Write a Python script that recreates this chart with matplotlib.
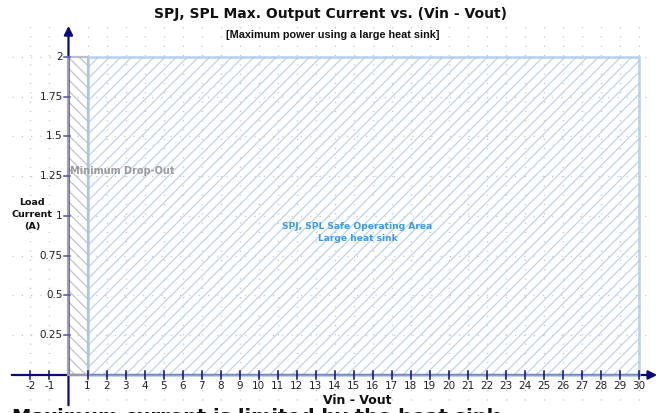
import matplotlib.pyplot as plt
import matplotlib.patches as mpatches

# chart data
x_ticks = [-2, -1] + list(range(1, 31))
y_ticks = [0.25, 0.5, 0.75, 1, 1.25, 1.5, 1.75, 2]
y_tick_labels = ['0.25', '0.5', '0.75', '1', '1.25', '1.5', '1.75', '2']
dropout_range = (0, 1)
soa_range = (1, 30)
max_current = 2.0

title = 'SPJ, SPL Max. Output Current vs. (Vin - Vout)'
subtitle = '[Maximum power using a large heat sink]'
soa_label = 'SPJ, SPL Safe Operating Area\nLarge heat sink'
dropout_label = 'Minimum Drop-Out'

navy = '#0a0a80'
grid_col = '#c4c4c4'

fig = plt.figure(figsize=(6.69, 4.13), dpi=100)
ax = fig.add_axes([0, 0, 1, 1])
ax.set_xlim(-3.60, 31.57)
ax.set_ylim(-0.239, 2.358)
ax.axis('off')

# dotted grid
dots = (0, (0.8, 5.9))
ax.vlines(x_ticks, -0.16, 2.22, colors=grid_col, linestyles=dots, lw=1, zorder=0)
ax.hlines(y_ticks, -2.98, 30.5, colors=grid_col, linestyles=dots, lw=1, zorder=0)

# minimum drop-out region
plt.rcParams['hatch.linewidth'] = 0.9
dx0, dx1 = dropout_range
ax.add_patch(mpatches.Rectangle((dx0, 0), dx1 - dx0, max_current, facecolor='none',
                                edgecolor='#c4c4c4', hatch='\\\\\\', lw=0, zorder=1))

# safe operating area
sx0, sx1 = soa_range
ax.add_patch(mpatches.Rectangle((sx0, 0), sx1 - sx0, max_current, facecolor='none',
                                edgecolor='#bcd5f1', hatch='///', lw=0, zorder=1))

# axes with arrows
ax.annotate('', xy=(30.95, 0), xytext=(-2.98, 0),
            arrowprops=dict(arrowstyle='-|>', color=navy, lw=1.6, mutation_scale=13,
                            shrinkA=0, shrinkB=0), zorder=3)
ax.annotate('', xy=(0, 2.195), xytext=(0, -0.19),
            arrowprops=dict(arrowstyle='-|>', color=navy, lw=1.6, mutation_scale=13,
                            shrinkA=0, shrinkB=0), zorder=3)

# region borders drawn over the axes
ax.add_patch(mpatches.Rectangle((dx0, 0), dx1 - dx0, max_current, facecolor='none',
                                edgecolor='#b4b4b4', lw=1.6, alpha=0.85, zorder=4))
ax.add_patch(mpatches.Rectangle((sx0, 0), sx1 - sx0, max_current, facecolor='none',
                                edgecolor='#aac8ee', lw=1.9, alpha=0.8, zorder=4))

# x ticks
for xv in x_ticks:
    ax.plot([xv, xv], [-0.025, 0.025], color=navy, lw=1.1, zorder=5)
    ax.text(xv, -0.07, str(xv), ha='center', va='center', fontsize=7.5,
            color='#222222', family='DejaVu Sans')

# y ticks
for yv, lab in zip(y_ticks, y_tick_labels):
    ax.plot([-0.25, 0.1], [yv, yv], color='#5050b8', lw=1.1, zorder=5)
    ax.text(-0.3, yv, lab, ha='right', va='center', fontsize=7.5,
            color='#222222', family='DejaVu Sans')

# labels inside the plot
ax.text(0.08, 1.28, dropout_label, ha='left', va='center', fontsize=7,
        color='#9a9a9a', fontweight='bold', zorder=6)
ax.text(15.2, 0.895, soa_label, ha='center', va='center', fontsize=6.6,
        color='#3a9bec', fontweight='bold', linespacing=1.5, zorder=6)

# axis titles
ax.text(-1.9, 1.01, 'Load\nCurrent\n(A)', ha='center', va='center', fontsize=6.8,
        fontweight='bold', color='#111111', linespacing=1.4)
ax.text(15.2, -0.162, 'Vin - Vout', ha='center', va='center', fontsize=9,
        fontweight='bold', color='#111111')

# titles
fig.text(0.494, 1 - 14 / 413, title, ha='center', va='center', fontsize=10,
         fontweight='bold', color='#111111')
fig.text(0.497, 1 - 35 / 413, subtitle, ha='center', va='center', fontsize=7.8,
         fontweight='bold', color='#111111', family='Liberation Sans')

# caption cut off at the bottom edge
fig.text(0.018, -0.035, 'Maximum current is limited by the heat sink',
         ha='left', va='bottom', fontsize=14, fontweight='bold', color='#111111')

fig.savefig('out.png', dpi=100)
